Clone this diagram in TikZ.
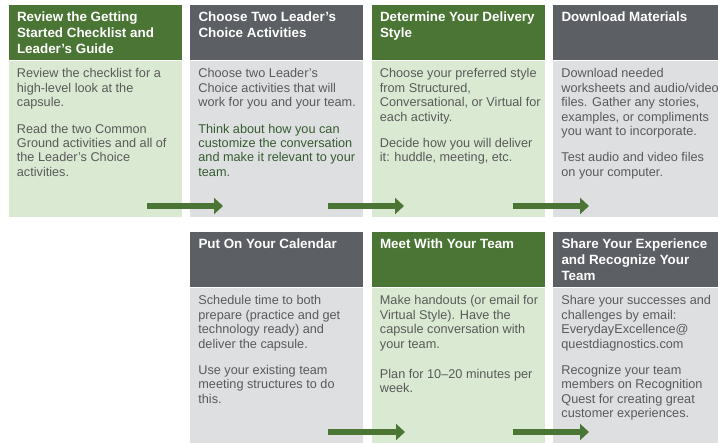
\documentclass[tikz,border=0pt]{standalone}
\usepackage{fontspec}
\setmainfont{Liberation Sans}
\usetikzlibrary{arrows.meta}

\definecolor{hdrgreen}{RGB}{74,117,52}
\definecolor{hdrgray}{RGB}{92,95,99}
\definecolor{bodygreen}{RGB}{218,233,210}
\definecolor{bodygray}{RGB}{222,223,225}
\definecolor{bodytxt}{RGB}{90,90,90}
\definecolor{accenttxt}{RGB}{52,92,46}
\definecolor{arrowgreen}{RGB}{74,117,52}

\tikzset{
  panel/.style={draw=none, inner sep=0pt, anchor=north west, minimum width=173.4pt},
  hdrg/.style={panel, fill=hdrgreen, minimum height=55pt},
  hdra/.style={panel, fill=hdrgray, minimum height=55pt},
  bodyg/.style={panel, fill=bodygreen, minimum height=156pt},
  bodya/.style={panel, fill=bodygray, minimum height=156pt},
  bodygl/.style={panel, fill=bodygreen, minimum height=170pt},
  bodyal/.style={panel, fill=bodygray, minimum height=170pt},
  htext/.style={anchor=north west, inner sep=0pt, align=left, text=white,
    font=\bfseries\fontsize{13.4}{15.8}\selectfont},
  btext/.style={anchor=north west, inner sep=0pt, align=left, text=bodytxt,
    font=\fontsize{12.7}{14.4}\selectfont},
  flowarrow/.style={draw=arrowgreen, line width=6.6pt,
    -{Triangle[length=9pt,width=16pt]}}
}

\begin{document}
\begin{tikzpicture}[x=1pt,y=-1pt]
\useasboundingbox (0,0) rectangle (718,443);
\fill[white] (0,0) rectangle (718,443);
\clip (0,0) rectangle (718,443);

% ---- top row ----
\node[hdrg] (h1) at (8.3,5) {};
\node[bodyg] (b1) at (h1.south west) {};
\node[htext] (h1t) at ([shift={(8.5,5.7)}]h1.north west)
  {\strut Review the Getting\\\strut Started Checklist and\\\strut Leader's Guide};
\node[btext] (b1t) at ([shift={(8.4,7.3)}]b1.north west)
  {\strut Review the checklist for a\\\strut high-level look at the\\\strut capsule.\\[12pt]
   \strut Read the two Common\\\strut Ground activities and all of\\\strut the Leader's Choice\\\strut activities.};

\node[hdra] (h2) at (189.8,5) {};
\node[bodya] (b2) at (h2.south west) {};
\node[htext] (h2t) at ([shift={(8.5,5.7)}]h2.north west)
  {\strut Choose Two Leader's\\\strut Choice Activities};
\node[btext] (b2t) at ([shift={(8.4,7.3)}]b2.north west)
  {\strut Choose two Leader's\\\strut Choice activities that will\\\strut work for you and your team.\\[12pt]
   \strut\textcolor{accenttxt}{Think about how you can}\\
   \strut\textcolor{accenttxt}{customize the conversation}\\
   \strut\textcolor{accenttxt}{and make it relevant to your}\\
   \strut\textcolor{accenttxt}{team.}};

\node[hdrg] (h3) at (371.3,5) {};
\node[bodyg] (b3) at (h3.south west) {};
\node[htext] (h3t) at ([shift={(8.5,5.7)}]h3.north west)
  {\strut Determine Your Delivery\\\strut Style};
\node[btext] (b3t) at ([shift={(8.4,7.3)}]b3.north west)
  {\strut Choose your preferred style\\\strut from Structured,\\\strut Conversational, or Virtual for\\\strut each activity.\\[12pt]
   \strut Decide how you will deliver\\\strut it: huddle, meeting, etc.};

\node[hdra] (h4) at (552.8,5) {};
\node[bodya] (b4) at (h4.south west) {};
\node[htext] (h4t) at ([shift={(8.5,5.7)}]h4.north west)
  {\strut Download Materials};
\node[btext] (b4t) at ([shift={(8.4,7.3)}]b4.north west)
  {\strut Download needed\\\strut worksheets and audio/video\\\strut files. Gather any stories,\\\strut examples, or compliments\\\strut you want to incorporate.\\[12pt]
   \strut Test audio and video files\\\strut on your computer.};

% ---- bottom row ----
\node[hdra] (h5) at (189.8,232) {};
\node[bodyal] (b5) at (h5.south west) {};
\node[htext] (h5t) at ([shift={(8.5,5.7)}]h5.north west)
  {\strut Put On Your Calendar};
\node[btext] (b5t) at ([shift={(8.4,7.3)}]b5.north west)
  {\strut Schedule time to both\\\strut prepare (practice and get\\\strut technology ready) and\\\strut deliver the capsule.\\[12pt]
   \strut Use your existing team\\\strut meeting structures to do\\\strut this.};

\node[hdrg] (h6) at (371.3,232) {};
\node[bodygl] (b6) at (h6.south west) {};
\node[htext] (h6t) at ([shift={(8.5,5.7)}]h6.north west)
  {\strut Meet With Your Team};
\node[btext] (b6t) at ([shift={(8.4,7.3)}]b6.north west)
  {\strut Make handouts (or email for\\\strut Virtual Style). Have the\\\strut capsule conversation with\\\strut your team.\\[15.5pt]
   \strut Plan for 10--20 minutes per\\\strut week.};

\node[hdra] (h7) at (552.8,232) {};
\node[bodyal] (b7) at (h7.south west) {};
\node[htext] (h7t) at ([shift={(8.5,5.7)}]h7.north west)
  {\strut Share Your Experience\\\strut and Recognize Your\\\strut Team};
\node[btext] (b7t) at ([shift={(8.4,7.3)}]b7.north west)
  {\strut Share your successes and\\\strut challenges by email:\\\strut EverydayExcellence@\\\strut questdiagnostics.com\\[12pt]
   \strut Recognize your team\\\strut members on Recognition\\\strut Quest for creating great\\\strut customer experiences.};

% ---- flow arrows ----
\coordinate (a1s) at (146.7,206);  \coordinate (a1e) at (223,206);
\coordinate (a2s) at (328,206);    \coordinate (a2e) at (404,206);
\coordinate (a3s) at (513,206);    \coordinate (a3e) at (589,206);
\coordinate (a4s) at (328,432);    \coordinate (a4e) at (405,432);
\coordinate (a5s) at (513,432);    \coordinate (a5e) at (589,432);
\draw[flowarrow] (a1s) -- (a1e);
\draw[flowarrow] (a2s) -- (a2e);
\draw[flowarrow] (a3s) -- (a3e);
\draw[flowarrow] (a4s) -- (a4e);
\draw[flowarrow] (a5s) -- (a5e);
\end{tikzpicture}
\end{document}
